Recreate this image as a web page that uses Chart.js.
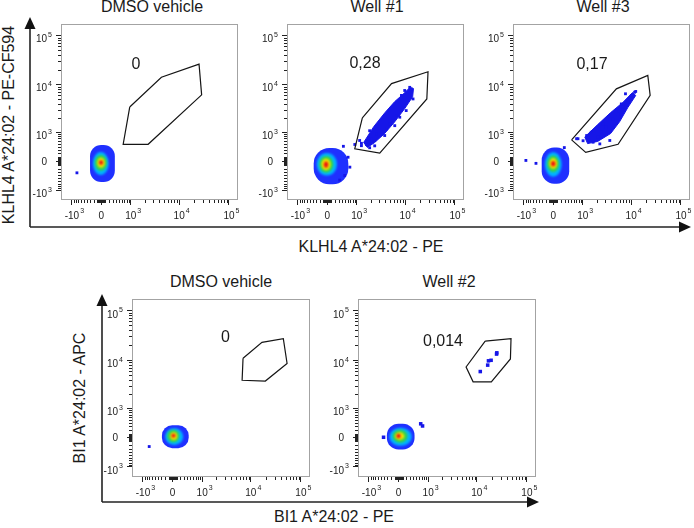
<!DOCTYPE html>
<html>
<head>
<meta charset="utf-8">
<script src="https://cdn.jsdelivr.net/npm/chart.js@4.4.1/dist/chart.umd.min.js"></script>
<style>
  html, body { margin: 0; padding: 0; background: #fff; }
  #page { position: relative; width: 694px; height: 528px; overflow: hidden;
          font-family: 'Liberation Sans', Arial, sans-serif; color: #1a1a1a; }
  #page canvas { position: absolute; }
  #page svg { position: absolute; left: 0; top: 0; }
  .txt { position: absolute; font-size: 16px; line-height: 16px; white-space: nowrap;
         transform: translate(-50%, -50%); }
  .rot { transform: translate(-50%, -50%) rotate(-90deg); }
</style>
</head>
<body>
<div id="page">
  <svg width="694" height="528">
    <g stroke="#222" stroke-width="1.6" fill="none">
      <line x1="30" y1="227" x2="30" y2="27"/>
      <line x1="30" y1="227" x2="680" y2="227"/>
      <line x1="102" y1="502" x2="102" y2="304"/>
      <line x1="102" y1="502" x2="528" y2="502"/>
    </g>
    <g fill="#111">
      <polygon points="24.5,29 30,17 35.5,29"/>
      <polygon points="679,221.5 691,227 679,232.5"/>
      <polygon points="96.5,306 102,294 107.5,306"/>
      <polygon points="527,496.5 539,502 527,507.5"/>
    </g>
  </svg>
  <div class="txt rot" style="left:9px; top:125px;">KLHL4 A*24:02 - PE-CF594</div>
  <div class="txt" style="left:371px; top:247px;">KLHL4 A*24:02 - PE</div>
  <div class="txt rot" style="left:80px; top:398px;">BI1 A*24:02 - APC</div>
  <div class="txt" style="left:334px; top:517px;">BI1 A*24:02 - PE</div>
</div>
<script>
// Biexponential display (asinh: linear around zero, log in the upper decades)
const BIEX_WIDTH = 549;
function biex(v) { return Math.asinh(v / BIEX_WIDTH); }

const AXIS_TICKS = [-1000, 0, 1000, 10000, 100000];
const AXIS_TICK_BASES = ['-10', '0', '10', '10', '10'];
const AXIS_TICK_EXPONENTS = ['3', '', '3', '4', '5'];
const MINOR_TICKS = [-900, -800, -700, -600, -500, -400, -300, -200, -100,
  -90, -80, -70, -60, -50, -40, -30, -20, -10,
  10, 20, 30, 40, 50, 60, 70, 80, 90,
  100, 200, 300, 400, 500, 600, 700, 800, 900,
  2000, 3000, 4000, 5000, 6000, 7000, 8000, 9000,
  20000, 30000, 40000, 50000, 60000, 70000, 80000, 90000];
const X_RANGE = [-1730, 152000];
const Y_RANGE = [-1665, 170000];

const TITLES = ['DMSO vehicle', 'Well #1', 'Well #3', 'DMSO vehicle', 'Well #2'];
const GATE_FREQ = ['0', '0,28', '0,17', '0', '0,014'];

// density contours, outer (blue) to inner (red): [xlo, xhi, ylo, yhi]
const DMSO_TOP_DENSITY = [[-300, 365, -630, 450], [-222, 190, -385, 238], [-166, 143, -262, 159], [-106, 90, -175, 83], [-60, 45, -106, 23]];
const WELL1_DENSITY = [[-370, 620, -722, 355], [-282, 252, -400, 213], [-213, 151, -314, 128], [-151, 83, -243, 68], [-90, 23, -175, -15]];
const WELL3_DENSITY = [[-310, 440, -700, 370], [-220, 215, -440, 230], [-160, 150, -300, 145], [-106, 98, -205, 75], [-60, 53, -145, 0]];
const DMSO_BOTTOM_DENSITY = [[-280, 445, -280, 335], [-190, 280, -190, 245], [-135, 175, -120, 205], [-60, 120, -60, 135], [-30, 75, 0, 98]];
const WELL2_DENSITY = [[-310, 440, -320, 380], [-235, 350, -215, 260], [-150, 230, -130, 205], [-90, 145, -60, 135], [-55, 55, -15, 98]];

// gate polygons [x, y]
const DMSO_TOP_GATE = [[945, 3430], [4390, 13980], [25100, 25800], [28300, 6100], [2355, 476], [652, 476]];
const WELL1_GATE = [[1330, 2050], [5320, 10380], [28800, 18100], [27260, 5040], [3070, 206], [897, 332]];
const WELL3_GATE = [[520, 640], [5040, 8100], [21600, 15200], [24100, 5940], [5460, 475], [1165, 230]];
const DMSO_BOTTOM_GATE = [[6990, 10900], [16700, 22800], [44600, 26900], [53000, 8560], [19500, 3760], [6700, 3900]];
const WELL2_GATE = [[14700, 24100], [48200, 26900], [46900, 10500], [19500, 3620], [8430, 3620], [6100, 7260]];

// dense cores of the positive populations
const WELL1_CORE = [[1420, 540], [2320, 1330], [3930, 2640], [6180, 4450], [8930, 6180], [12360, 8560], [14700, 8220],
  [14160, 5600], [9800, 3190], [6180, 1690], [3870, 925], [2420, 540], [1700, 375]];
const WELL3_CORE = [[1110, 760], [2100, 1470], [3870, 2640], [6800, 4270], [10650, 6800], [12360, 5940],
  [8570, 3350], [5860, 1690], [3870, 925], [2100, 580], [1280, 500]];

// single events
const DMSO_TOP_EVENTS = [[-760, -320]];
const WELL1_EVENTS = [[900, 470], [1270, 430], [1630, 470], [2075, 685], [2630, 910], [4210, 1180], [5700, 1800],
  [7800, 2110], [10500, 2900], [13200, 8120], [9800, 7500], [8430, 5950], [2420, 615], [3460, 990], [4900, 1510],
  [6700, 2280], [1160, 615], [1900, 1070], [445, 410], [610, 98], [680, -160], [490, -403], [330, -560],
  [1270, 510], [1900, 365], [2420, 425], [3870, 825], [6180, 1390], [14400, 5040], [12360, 8700]];
const WELL3_EVENTS = [[770, 685], [1015, 605], [1220, 825], [1680, 550], [2140, 745], [2500, 990], [3710, 615],
  [3150, 1290], [4330, 1960], [5460, 2420], [6900, 3430], [8700, 4700], [10100, 5940], [11730, 6900], [7690, 6420],
  [6340, 3980], [5040, 2900], [2710, 1510], [1535, 990], [2320, 490], [710, 685], [12360, 7170],
  [-900, 15], [-490, -60], [290, 370]];
const DMSO_BOTTOM_EVENTS = [[-710, -235]];
const WELL2_EVENTS = [[11730, 5860], [16500, 7900], [17100, 9650], [19300, 9900], [24800, 13200], [25100, 14000],
  [-410, 8], [660, 375], [735, 310]];

const FONT = "'Liberation Sans', Arial, sans-serif";
const EVENT_BLUE = '#1616e8';
const LEVEL_COLORS = ['#1f30ff', '#00b4ff', '#33d24b', '#f2e400', '#ec1212'];

const PANEL_BOXES = [
  { x: 61, y: 24, w: 177, h: 176, title: [152, 7], freq: [136, 64] },
  { x: 287, y: 24, w: 177, h: 176, title: [377, 7], freq: [365, 63] },
  { x: 513, y: 24, w: 177, h: 176, title: [603, 7], freq: [592, 64] },
  { x: 132, y: 299, w: 178, h: 178, title: [221, 282], freq: [225.5, 336.5] },
  { x: 358, y: 299, w: 178, h: 178, title: [449, 282], freq: [443, 341] },
];

class BiexScale extends Chart.LinearScale {
  buildTicks() {
    return AXIS_TICKS.map(v => ({ value: v }));
  }
  getPixelForValue(v) {
    const t0 = biex(this.min), t1 = biex(this.max);
    return this.getPixelForDecimal((biex(v) - t0) / (t1 - t0));
  }
  getValueForPixel(p) {
    const t0 = biex(this.min), t1 = biex(this.max);
    return BIEX_WIDTH * Math.sinh(t0 + this.getDecimalForPixel(p) * (t1 - t0));
  }
}
BiexScale.id = 'biex';
BiexScale.defaults = {};
Chart.register(BiexScale);

const densityPlugin = {
  id: 'density',
  beforeDatasetsDraw(chart, args, opts) {
    const { ctx, chartArea: a, scales: { x, y } } = chart;
    ctx.save();
    ctx.beginPath();
    ctx.rect(a.left, a.top, a.width, a.height);
    ctx.clip();
    opts.levels.forEach((b, i) => {
      const x0 = x.getPixelForValue(b[0]), x1 = x.getPixelForValue(b[1]);
      const y0 = y.getPixelForValue(b[3]), y1 = y.getPixelForValue(b[2]);
      const w = x1 - x0, h = y1 - y0;
      ctx.fillStyle = LEVEL_COLORS[i];
      ctx.filter = i === 0 ? 'none' : 'blur(1px)';
      ctx.beginPath();
      if (i === 0) {
        ctx.roundRect(x0, y0, w, h, Math.min(w, h) * 0.45);
      } else {
        ctx.ellipse((x0 + x1) / 2, (y0 + y1) / 2, w / 2, h / 2, 0, 0, Math.PI * 2);
      }
      ctx.fill();
    });
    ctx.restore();
  },
};

// frame, minor ticks and "10^n" tick labels of the biexponential axes
const framePlugin = {
  id: 'frame',
  afterDraw(chart) {
    const { ctx, chartArea: a, scales: { x, y } } = chart;
    ctx.save();
    ctx.strokeStyle = '#a3a3a3';
    ctx.lineWidth = 1;
    ctx.strokeRect(a.left + 0.5, a.top + 0.5, a.width - 1, a.height - 1);

    ctx.strokeStyle = '#222';
    ctx.beginPath();
    MINOR_TICKS.forEach(v => {
      const px = Math.round(x.getPixelForValue(v)) + 0.5;
      if (px > a.left && px < a.right) { ctx.moveTo(px, a.bottom); ctx.lineTo(px, a.bottom + 3); }
      const py = Math.round(y.getPixelForValue(v)) + 0.5;
      if (py > a.top && py < a.bottom) { ctx.moveTo(a.left - 3, py); ctx.lineTo(a.left, py); }
    });
    ctx.stroke();

    ctx.fillStyle = '#222';
    ctx.textBaseline = 'alphabetic';
    AXIS_TICKS.forEach((v, i) => {
      const base = AXIS_TICK_BASES[i], exp = AXIS_TICK_EXPONENTS[i];
      const lift = exp ? 3.5 : 0;
      ctx.font = `10px ${FONT}`;
      const bw = ctx.measureText(base).width;
      // x axis: base centred on the tick, exponent after it
      const px = x.getPixelForValue(v);
      ctx.textAlign = 'left';
      ctx.fillText(base, px - bw / 2, a.bottom + 18.5);
      // y axis: base right-aligned, exponent after it
      const py = y.getPixelForValue(v);
      const right = a.left - 14;
      ctx.fillText(base, right - bw, py + 3.6 + lift);
      if (exp) {
        ctx.font = `7px ${FONT}`;
        ctx.fillText(exp, px + bw / 2 + 1, a.bottom + 13);
        ctx.fillText(exp, right + 1, py - 2 + lift);
      }
    });
    ctx.restore();
  },
};

function xy(points) {
  return points.map(([x, y]) => ({ x, y }));
}

function closeRing(points) {
  return points.concat([points[0]]);
}

function axisOptions(range, axis) {
  return {
    type: 'biex',
    min: range[0],
    max: range[1],
    grid: { drawOnChartArea: false, drawTicks: true, tickLength: 5, color: '#222', lineWidth: 1 },
    border: { display: false },
    ticks: { display: false, autoSkip: false },
    afterFit: s => {
      if (axis === 'x') s.height = 26; else s.width = 30;
      s.paddingLeft = s.paddingRight = s.paddingTop = s.paddingBottom = 0;
    },
  };
}

function addText(cls, text, pos) {
  const d = document.createElement('div');
  d.className = cls;
  d.textContent = text;
  d.style.left = pos[0] + 'px';
  d.style.top = pos[1] + 'px';
  document.getElementById('page').appendChild(d);
}

function mountPanel(i, density, gate, events, core, dotRadius) {
  const b = PANEL_BOXES[i];
  const cv = document.createElement('canvas');
  cv.width = b.w + 34;
  cv.height = b.h + 30;
  cv.style.left = (b.x - 30) + 'px';
  cv.style.top = (b.y - 4) + 'px';
  cv.style.width = cv.width + 'px';
  cv.style.height = cv.height + 'px';
  document.getElementById('page').appendChild(cv);

  const datasets = [
    { type: 'line', data: xy(closeRing(gate)), borderColor: '#151515', borderWidth: 1.2,
      pointRadius: 0, fill: false, tension: 0 },
    { type: 'scatter', data: xy(events), pointStyle: 'rect', pointRadius: dotRadius,
      backgroundColor: EVENT_BLUE, borderWidth: 0 },
  ];
  if (core) {
    datasets.push({ type: 'line', data: xy(closeRing(core)), borderColor: EVENT_BLUE,
      backgroundColor: EVENT_BLUE, borderWidth: 1, pointRadius: 0, fill: 'shape', tension: 0 });
  }

  new Chart(cv, {
    type: 'scatter',
    data: { datasets },
    options: {
      responsive: false,
      animation: false,
      devicePixelRatio: 1,
      events: [],
      layout: { padding: { top: 4, right: 4, left: 0, bottom: 0 } },
      plugins: {
        legend: { display: false },
        tooltip: { enabled: false },
        density: { levels: density },
      },
      scales: { x: axisOptions(X_RANGE, 'x'), y: axisOptions(Y_RANGE, 'y') },
    },
    plugins: [densityPlugin, framePlugin],
  });

  addText('txt', TITLES[i], b.title);
  addText('txt', GATE_FREQ[i], b.freq);
}

Chart.defaults.font.family = FONT;

mountPanel(0, DMSO_TOP_DENSITY, DMSO_TOP_GATE, DMSO_TOP_EVENTS, null, 2);
mountPanel(1, WELL1_DENSITY, WELL1_GATE, WELL1_EVENTS, WELL1_CORE, 2);
mountPanel(2, WELL3_DENSITY, WELL3_GATE, WELL3_EVENTS, WELL3_CORE, 2);
mountPanel(3, DMSO_BOTTOM_DENSITY, DMSO_BOTTOM_GATE, DMSO_BOTTOM_EVENTS, null, 2);
mountPanel(4, WELL2_DENSITY, WELL2_GATE, WELL2_EVENTS, null, 2.5);
</script>
</body>
</html>
